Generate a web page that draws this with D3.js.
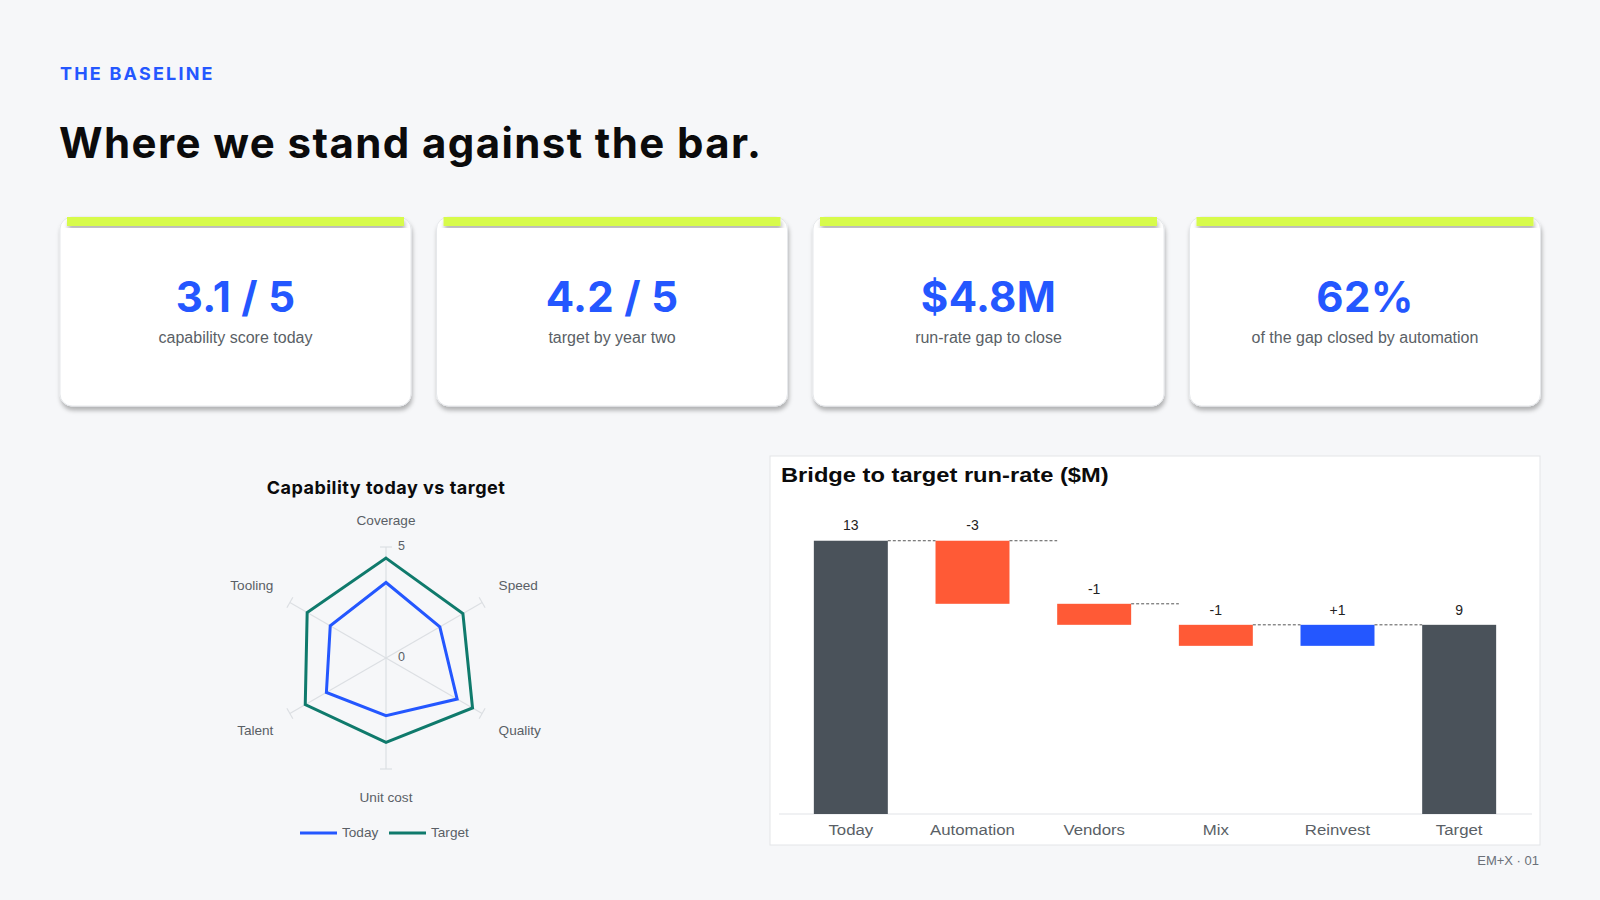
<!DOCTYPE html>
<html>
<head>
<meta charset="utf-8">
<script src="https://cdn.jsdelivr.net/npm/d3@7"></script>
<style>
  html,body{margin:0;padding:0;background:#f6f7f9;}
  svg{display:block;}
</style>
</head>
<body>
<div id="slide"></div>
<script>
// data
var kpiValues=["3.1 / 5","4.2 / 5","$4.8M","62%"];
var kpiLabels=["capability score today","target by year two","run-rate gap to close","of the gap closed by automation"];

var radarAxes=["Coverage","Speed","Quality","Unit cost","Talent","Tooling"];
var todayScores=[3.4,2.8,3.7,2.6,3.1,2.9];
var targetScores=[4.5,4.0,4.5,3.8,4.2,4.1];
var radarTicks=[0,5];

var bridgeSteps=["Today","Automation","Vendors","Mix","Reinvest","Target"];
var bridgeValues=[13,-3,-1,-1,1,9];
var bridgeKinds=["total","delta","delta","delta","delta","total"];

var BLUE="#2457ff", TEAL="#0f7a6c", ORANGE="#ff5a36", SLATE="#4a525a";
var SANS="'Liberation Sans', Arial, sans-serif";

var svg=d3.select("#slide")
    .append("svg")
    .attr("width",1600)
    .attr("height",900);

var defs=svg.append("defs");
var sh=defs.append("filter").attr("id","cardShadow")
    .attr("x","-10%").attr("y","-10%").attr("width","120%").attr("height","130%");
sh.append("feDropShadow")
    .attr("dx",1).attr("dy",4).attr("stdDeviation",2)
    .attr("flood-color","#000").attr("flood-opacity",0.28);

// header
svg.append("text")
    .attr("x",60).attr("y",80)
    .attr("fill",BLUE)
    .attr("font-family","Inter, sans-serif")
    .attr("font-weight",700)
    .attr("font-size",18)
    .attr("letter-spacing",2.2)
    .text("THE BASELINE");
svg.append("text")
    .attr("x",59).attr("y",158)
    .attr("fill","#0b0b0c")
    .attr("font-family","Inter, sans-serif")
    .attr("font-weight",700)
    .attr("font-size",42)
    .attr("letter-spacing",1.4)
    .text("Where we stand against the bar.");

// kpi cards
var cardW=351, cardGap=25.5, cardTop=217, cardH=189;
var cards=svg.selectAll("g.card")
    .data(kpiValues)
    .enter().append("g")
    .attr("class","card")
    .attr("transform",function(d,i){return "translate("+(60+i*(cardW+cardGap))+","+cardTop+")";});
cards.append("rect")
    .attr("width",cardW).attr("height",cardH)
    .attr("rx",12)
    .attr("fill","#fff")
    .attr("stroke","#e6e8eb")
    .attr("filter","url(#cardShadow)");
cards.append("rect")
    .attr("x",7).attr("y",0)
    .attr("width",cardW-14).attr("height",9)
    .attr("fill","#d7fb4b")
    .attr("filter","url(#cardShadow)");
cards.append("text")
    .attr("x",cardW/2).attr("y",95)
    .attr("text-anchor","middle")
    .attr("fill",BLUE)
    .attr("font-family","Inter, sans-serif")
    .attr("font-weight",700)
    .attr("font-size",42)
    .attr("letter-spacing",0.3)
    .text(function(d){return d;});
cards.append("text")
    .attr("x",cardW/2).attr("y",126)
    .attr("text-anchor","middle")
    .attr("fill","#5a5f66")
    .attr("font-family",SANS)
    .attr("font-size",16)
    .text(function(d,i){return kpiLabels[i];});

// radar
var cx=386, cy=658, R=111;
var rScale=d3.scaleLinear().domain([0,5]).range([0,R]);
var ang=function(i){return i*2*Math.PI/radarAxes.length;};
var radar=svg.append("g");

radar.append("text")
    .attr("x",cx).attr("y",494)
    .attr("text-anchor","middle")
    .attr("fill","#0b0b0c")
    .attr("font-family","Inter, sans-serif")
    .attr("font-weight",700)
    .attr("font-size",18)
    .attr("letter-spacing",0.5)
    .text("Capability today vs target");

radarAxes.forEach(function(a,i){
  var t=ang(i), sx=Math.sin(t), sy=-Math.cos(t);
  var ex=cx+rScale(5)*sx, ey=cy+rScale(5)*sy;
  radar.append("line")
      .attr("x1",cx).attr("y1",cy).attr("x2",ex).attr("y2",ey)
      .attr("stroke","#dcdfe3").attr("stroke-width",1.2);
  // end tick
  var px=-sy*6, py=sx*6;
  radar.append("line")
      .attr("x1",ex-px).attr("y1",ey-py).attr("x2",ex+px).attr("y2",ey+py)
      .attr("stroke","#dcdfe3").attr("stroke-width",1.2);
  var lx=cx+130*sx, ly=cy+130*sy;
  ly+= (sy<0?-7:(Math.abs(sx)<0.1?10:8));
  var anchor=Math.abs(sx)<0.1?"middle":(sx>0?"start":"end");
  radar.append("text")
      .attr("x",lx).attr("y",ly)
      .attr("text-anchor",anchor)
      .attr("dominant-baseline","middle")
      .attr("fill","#5a5f66")
      .attr("font-family",SANS)
      .attr("font-size",13.6)
      .text(a);
});
radar.selectAll("text.tick")
    .data(radarTicks)
    .enter().append("text")
    .attr("class","tick")
    .attr("x",cx+12).attr("y",function(d){return cy-rScale(d);})
    .attr("dominant-baseline","middle")
    .attr("fill","#5a5f66")
    .attr("font-family",SANS)
    .attr("font-size",12.5)
    .text(function(d){return d;});

var radarLine=d3.lineRadial()
    .angle(function(d,i){return ang(i);})
    .radius(function(d){return rScale(d);})
    .curve(d3.curveLinearClosed);
[[targetScores,TEAL],[todayScores,BLUE]].forEach(function(s){
  radar.append("path")
      .attr("transform","translate("+cx+","+cy+")")
      .attr("d",radarLine(s[0]))
      .attr("fill","none")
      .attr("stroke",s[1])
      .attr("stroke-width",3)
      .attr("stroke-linejoin","miter");
});

// radar legend
var legendItems=[["Today",BLUE,294],["Target",TEAL,383]];
legendItems.forEach(function(l){
  radar.append("line")
      .attr("x1",l[2]+6).attr("x2",l[2]+43)
      .attr("y1",833).attr("y2",833)
      .attr("stroke",l[1]).attr("stroke-width",3);
  radar.append("text")
      .attr("x",l[2]+48).attr("y",833)
      .attr("dominant-baseline","middle")
      .attr("fill","#5a5f66")
      .attr("font-family",SANS)
      .attr("font-size",13.6)
      .text(l[0]);
});

// bridge / waterfall
var panel=svg.append("g");
panel.append("rect")
    .attr("x",770).attr("y",456)
    .attr("width",770).attr("height",389)
    .attr("fill","#fff")
    .attr("stroke","#e3e5e8");
panel.append("text")
    .attr("transform","translate(781,482) scale(1.215,1)")
    .attr("fill","#0b0b0c")
    .attr("font-family",SANS)
    .attr("font-weight",700)
    .attr("font-size",19.5)
    .text("Bridge to target run-rate ($M)");

var x=d3.scaleBand()
    .domain(bridgeSteps)
    .range([790,1520])
    .paddingInner(0.392)
    .paddingOuter(0.196);
var y=d3.scaleLinear()
    .domain([0,15])
    .range([814,814-15*21.02]);

// running totals
var bars=[], run=0;
bridgeValues.forEach(function(v,i){
  if(bridgeKinds[i]==="total"){
    bars.push({step:bridgeSteps[i],start:0,end:v,value:v,kind:"total"});
    run=v;
  }else{
    bars.push({step:bridgeSteps[i],start:run,end:run+v,value:v,kind:v<0?"neg":"pos"});
    run+=v;
  }
});
var fillFor={total:SLATE,neg:ORANGE,pos:BLUE};

panel.append("line")
    .attr("x1",779).attr("x2",1532)
    .attr("y1",y(0)).attr("y2",y(0))
    .attr("stroke","#e2e4e7").attr("stroke-width",1.2);

panel.selectAll("rect.bar")
    .data(bars)
    .enter().append("rect")
    .attr("class","bar")
    .attr("x",function(d){return x(d.step);})
    .attr("width",x.bandwidth())
    .attr("y",function(d){return y(Math.max(d.start,d.end));})
    .attr("height",function(d){return Math.abs(y(d.start)-y(d.end));})
    .attr("fill",function(d){return fillFor[d.kind];});

// connectors
panel.selectAll("line.conn")
    .data(bars.slice(0,-1))
    .enter().append("line")
    .attr("class","conn")
    .attr("x1",function(d){return x(d.step)+x.bandwidth();})
    .attr("x2",function(d,i){return x(bars[i+1].step);})
    .attr("y1",function(d){return y(Math.max(d.start,d.end));})
    .attr("y2",function(d){return y(Math.max(d.start,d.end));})
    .attr("stroke","#555")
    .attr("stroke-width",1)
    .attr("stroke-dasharray","3,2");

panel.selectAll("text.val")
    .data(bars)
    .enter().append("text")
    .attr("class","val")
    .attr("x",function(d){return x(d.step)+x.bandwidth()/2;})
    .attr("y",function(d){return y(Math.max(d.start,d.end))-14;})
    .attr("text-anchor","middle")
    .attr("dominant-baseline","middle")
    .attr("fill","#222")
    .attr("font-family",SANS)
    .attr("font-size",14)
    .text(function(d){return d.kind==="pos"?"+"+d.value:d.value;});

var xAxis=panel.append("g")
    .attr("transform","translate(0,"+y(0)+")")
    .call(d3.axisBottom(x).tickSize(0).tickPadding(10));
xAxis.select(".domain").remove();
xAxis.selectAll(".tick text")
    .attr("fill","#5a5f66")
    .attr("font-family",SANS)
    .attr("font-size",15)
    .attr("transform","scale(1.12,1)");

svg.append("text")
    .attr("x",1539).attr("y",865)
    .attr("text-anchor","end")
    .attr("fill","#6b7078")
    .attr("font-family",SANS)
    .attr("font-size",13)
    .text("EM+X · 01");
</script>
</body>
</html>
